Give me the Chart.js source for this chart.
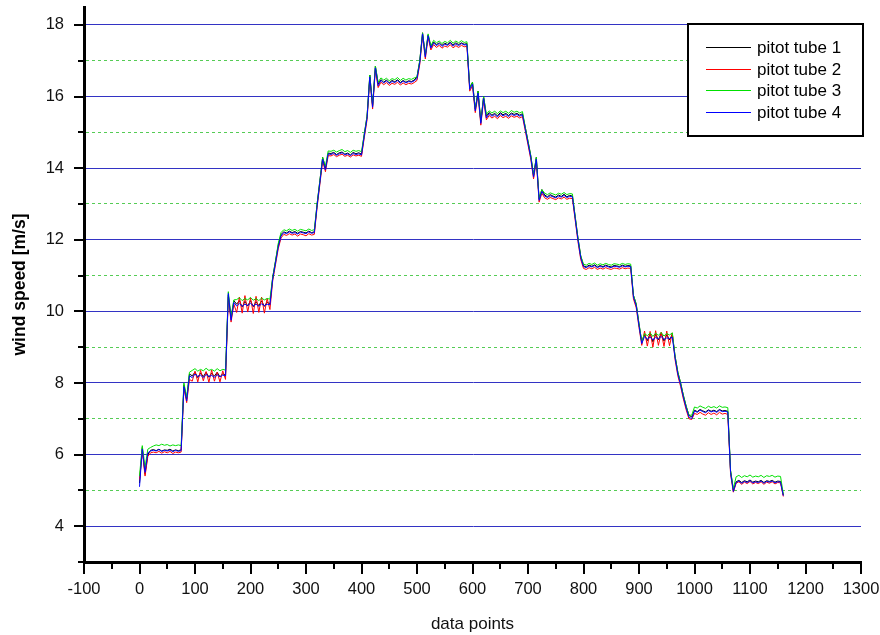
<!DOCTYPE html>
<html>
<head>
<meta charset="utf-8">
<title>pitot tubes</title>
<script src="https://cdn.jsdelivr.net/npm/chart.js@4/dist/chart.umd.min.js"></script>
<style>
  body { margin: 0; background: #fff; }
  #wrap { width: 880px; height: 635px; position: relative; }
</style>
</head>
<body>
<div id="wrap"><canvas id="windChart"></canvas></div>
<script>
// every 5th data point of the recording, 0 .. 1160
const samples = Array.from({ length: 233 }, (_, i) => i * 5);

// wind speed [m/s], one line per step / plateau
const tube1 = [
    5.2, 6.2, 5.45, 6.0, 6.12, 6.14, 6.11, 6.15, 6.1, 6.13, 6.12, 6.15, 6.1, 6.13, 6.11, 6.13,
    7.95, 7.55, 8.25,
    8.2, 8.3, 8.15, 8.28, 8.18, 8.3, 8.16, 8.27, 8.19, 8.3, 8.17, 8.26, 8.22,
    10.45, 9.8, 10.3,
    10.2, 10.3, 10.12, 10.28, 10.15, 10.3, 10.13, 10.27, 10.16, 10.29, 10.14, 10.26, 10.2,
    10.95, 11.4, 11.85, 12.15,
    12.22, 12.19, 12.24, 12.2, 12.23, 12.18, 12.23, 12.21, 12.19, 12.24, 12.2, 12.22,
    13.0, 13.65, 14.3, 14.0, 14.42,
    14.41, 14.44, 14.38, 14.43, 14.45, 14.39, 14.42, 14.37, 14.44, 14.4, 14.43, 14.39,
    14.95, 15.45, 16.6, 15.75, 16.85, 16.35,
    16.47, 16.4, 16.46, 16.38, 16.45, 16.41, 16.47, 16.39, 16.45, 16.4, 16.44, 16.42, 16.46,
    16.55, 17.0, 17.78, 17.15, 17.72, 17.38,
    17.52, 17.45, 17.5, 17.43, 17.49, 17.45, 17.52, 17.44, 17.5, 17.45, 17.5, 17.46, 17.48,
    16.25, 16.4, 15.65, 16.15, 15.3, 16.0, 15.45,
    15.55, 15.48, 15.53, 15.46, 15.55, 15.49, 15.53, 15.47, 15.54, 15.5, 15.53, 15.48, 15.52,
    15.15, 14.75, 14.35, 13.8, 14.3, 13.15, 13.4,
    13.25, 13.2, 13.26, 13.22, 13.19, 13.25, 13.21, 13.27, 13.2, 13.24, 13.22,
    12.65, 12.05, 11.55,
    11.27, 11.24, 11.29, 11.26, 11.3, 11.24, 11.28, 11.25, 11.29, 11.26, 11.24, 11.28, 11.27, 11.25, 11.29, 11.26, 11.28, 11.27,
    10.45, 10.2, 9.65, 9.15,
    9.35, 9.18, 9.38, 9.15, 9.36, 9.2, 9.4, 9.17, 9.35, 9.2, 9.36,
    8.75, 8.3, 8.0, 7.65, 7.35, 7.1,
    7.05, 7.24, 7.2, 7.26, 7.22, 7.19, 7.25, 7.21, 7.24, 7.2, 7.26, 7.22, 7.23, 7.21,
    5.55, 5.0,
    5.24, 5.28, 5.22, 5.27, 5.24, 5.29, 5.23, 5.26, 5.24, 5.28, 5.22, 5.27, 5.25, 5.28, 5.23, 5.26, 5.25,
    4.87
];

const tube2 = [
    5.3, 6.1, 5.4, 5.95, 6.05, 6.07, 6.05, 6.09, 6.04, 6.08, 6.05, 6.09, 6.03, 6.07, 6.05, 6.07,
    7.85, 7.45, 8.1,
    8.05, 8.33, 8.03, 8.35, 8.06, 8.32, 8.02, 8.36, 8.05, 8.3, 8.03, 8.34, 8.1,
    10.4, 9.7, 10.2,
    9.97, 10.4, 9.95, 10.44, 9.98, 10.38, 9.94, 10.42, 9.97, 10.4, 9.95, 10.36, 10.05,
    10.85, 11.3, 11.75, 12.05,
    12.15, 12.12, 12.17, 12.13, 12.16, 12.1, 12.16, 12.14, 12.11, 12.17, 12.13, 12.15,
    12.9, 13.55, 14.2, 13.9, 14.35,
    14.34, 14.38, 14.32, 14.36, 14.39, 14.33, 14.36, 14.31, 14.37, 14.34, 14.36, 14.33,
    14.85, 15.35, 16.5, 15.65, 16.75, 16.25,
    16.4, 16.33, 16.39, 16.31, 16.37, 16.34, 16.4, 16.32, 16.38, 16.33, 16.37, 16.35, 16.39,
    16.45, 16.9, 17.7, 17.05, 17.65, 17.3,
    17.45, 17.37, 17.43, 17.35, 17.41, 17.38, 17.45, 17.36, 17.42, 17.37, 17.43, 17.39, 17.4,
    16.15, 16.3, 15.55, 16.05, 15.2, 15.9, 15.35,
    15.47, 15.4, 15.45, 15.38, 15.47, 15.41, 15.45, 15.39, 15.46, 15.42, 15.45, 15.4, 15.44,
    15.05, 14.65, 14.25, 13.7, 14.2, 13.05, 13.3,
    13.17, 13.13, 13.18, 13.15, 13.12, 13.17, 13.14, 13.19, 13.13, 13.16, 13.15,
    12.55, 11.95, 11.45,
    11.2, 11.17, 11.22, 11.19, 11.23, 11.17, 11.21, 11.18, 11.22, 11.19, 11.17, 11.21, 11.2, 11.18, 11.22, 11.19, 11.21, 11.2,
    10.35, 10.1, 9.55, 9.05,
    9.45, 9.03, 9.44, 9.0, 9.46, 9.05, 9.42, 9.02, 9.45, 9.04, 9.4,
    8.65, 8.2, 7.9, 7.55, 7.25, 7.0,
    6.98, 7.15, 7.12, 7.18, 7.13, 7.1, 7.17, 7.12, 7.16, 7.11, 7.18, 7.13, 7.15, 7.12,
    5.45, 4.95,
    5.2, 5.24, 5.17, 5.23, 5.19, 5.25, 5.18, 5.22, 5.19, 5.24, 5.17, 5.23, 5.2, 5.24, 5.18, 5.22, 5.21,
    4.83
];

const tube3 = [
    5.4, 6.25, 5.65, 6.15, 6.2, 6.24, 6.27, 6.25, 6.29, 6.26, 6.28, 6.24, 6.27, 6.25, 6.27, 6.25,
    8.0, 7.6, 8.3,
    8.35, 8.4, 8.33, 8.38, 8.34, 8.41, 8.35, 8.38, 8.33, 8.4, 8.34, 8.38, 8.36,
    10.55, 9.85, 10.32,
    10.33, 10.38, 10.3, 10.36, 10.32, 10.39, 10.31, 10.36, 10.3, 10.37, 10.32, 10.36, 10.34,
    10.95, 11.4, 11.9, 12.2,
    12.28, 12.25, 12.3, 12.26, 12.29, 12.24, 12.29, 12.27, 12.25, 12.3, 12.26, 12.28,
    13.0, 13.65, 14.3, 14.05, 14.48,
    14.47, 14.5, 14.45, 14.49, 14.52, 14.46, 14.49, 14.44, 14.5, 14.47, 14.49, 14.46,
    14.95, 15.45, 16.6, 15.75, 16.85, 16.4,
    16.52, 16.46, 16.51, 16.44, 16.5, 16.47, 16.53, 16.45, 16.51, 16.46, 16.5, 16.48, 16.52,
    16.55, 17.0, 17.78, 17.15, 17.75, 17.42,
    17.57, 17.5, 17.55, 17.48, 17.54, 17.5, 17.57, 17.49, 17.55, 17.5, 17.56, 17.51, 17.53,
    16.25, 16.4, 15.65, 16.15, 15.3, 16.0, 15.5,
    15.6, 15.54, 15.59, 15.52, 15.6, 15.55, 15.59, 15.53, 15.61, 15.56, 15.59, 15.54, 15.58,
    15.15, 14.75, 14.35, 13.8, 14.3, 13.15, 13.4,
    13.3, 13.26, 13.31, 13.28, 13.25, 13.3, 13.27, 13.32, 13.26, 13.29, 13.28,
    12.65, 12.05, 11.55,
    11.32, 11.29, 11.34, 11.31, 11.35, 11.29, 11.33, 11.3, 11.34, 11.31, 11.29, 11.33, 11.32, 11.3, 11.34, 11.31, 11.33, 11.32,
    10.45, 10.2, 9.65, 9.15,
    9.38, 9.32, 9.4, 9.3, 9.39, 9.33, 9.41, 9.31, 9.38, 9.34, 9.4,
    8.75, 8.3, 8.0, 7.65, 7.35, 7.1,
    7.1, 7.33, 7.3, 7.36, 7.32, 7.29, 7.35, 7.31, 7.34, 7.3, 7.36, 7.32, 7.33, 7.31,
    5.55, 5.05,
    5.38, 5.42, 5.36, 5.41, 5.38, 5.43, 5.37, 5.4, 5.38, 5.42, 5.36, 5.41, 5.39, 5.42, 5.37, 5.4, 5.39,
    4.9
];

const tube4 = [
    5.1, 6.15, 5.5, 6.05, 6.1, 6.12, 6.1, 6.14, 6.09, 6.12, 6.1, 6.13, 6.08, 6.12, 6.09, 6.11,
    7.9, 7.5, 8.2,
    8.15, 8.25, 8.18, 8.22, 8.15, 8.24, 8.18, 8.21, 8.16, 8.23, 8.17, 8.22, 8.2,
    10.5, 9.75, 10.25,
    10.15, 10.22, 10.14, 10.2, 10.16, 10.23, 10.15, 10.2, 10.14, 10.21, 10.16, 10.2, 10.18,
    10.9, 11.35, 11.8, 12.1,
    12.2, 12.17, 12.22, 12.18, 12.2, 12.16, 12.21, 12.19, 12.17, 12.22, 12.18, 12.2,
    12.95, 13.6, 14.25, 13.95, 14.4,
    14.38, 14.42, 14.36, 14.4, 14.43, 14.37, 14.4, 14.35, 14.41, 14.38, 14.4, 14.37,
    14.9, 15.4, 16.55, 15.7, 16.8, 16.3,
    16.45, 16.38, 16.44, 16.36, 16.42, 16.39, 16.45, 16.37, 16.43, 16.38, 16.42, 16.4, 16.44,
    16.5, 16.95, 17.75, 17.1, 17.7, 17.35,
    17.5, 17.42, 17.48, 17.4, 17.46, 17.43, 17.5, 17.41, 17.47, 17.42, 17.48, 17.44, 17.45,
    16.2, 16.35, 15.6, 16.1, 15.25, 15.95, 15.4,
    15.52, 15.45, 15.5, 15.43, 15.52, 15.46, 15.5, 15.44, 15.51, 15.47, 15.5, 15.45, 15.49,
    15.1, 14.7, 14.3, 13.75, 14.25, 13.1, 13.35,
    13.22, 13.18, 13.23, 13.2, 13.17, 13.22, 13.19, 13.24, 13.18, 13.21, 13.2,
    12.6, 12.0, 11.5,
    11.25, 11.22, 11.27, 11.24, 11.28, 11.22, 11.26, 11.23, 11.27, 11.24, 11.22, 11.26, 11.25, 11.23, 11.27, 11.24, 11.26, 11.25,
    10.4, 10.15, 9.6, 9.1,
    9.3, 9.22, 9.28, 9.2, 9.27, 9.23, 9.3, 9.21, 9.26, 9.24, 9.28,
    8.7, 8.25, 7.95, 7.6, 7.3, 7.05,
    7.0, 7.22, 7.18, 7.24, 7.2, 7.17, 7.23, 7.19, 7.22, 7.18, 7.24, 7.2, 7.21, 7.19,
    5.5, 4.97,
    5.22, 5.26, 5.2, 5.25, 5.22, 5.27, 5.21, 5.24, 5.22, 5.26, 5.2, 5.25, 5.23, 5.26, 5.21, 5.24, 5.23,
    4.85
];

const seriesNames = ['pitot tube 1', 'pitot tube 2', 'pitot tube 3', 'pitot tube 4'];
const seriesColors = ['#000000', '#ff0000', '#00e000', '#0000ff'];
const xTicks = { min: -100, max: 1300, step: 50 };
const yTicks = { min: 3, max: 18.5, step: 1 };

const FONT = "'Liberation Sans', Arial, sans-serif";

function toPoints(values) {
    return values.map((v, i) => ({ x: samples[i], y: v }));
}

// black tick marks, long on labelled steps, short in between
const axisTicks = {
    id: 'axisTicks',
    afterDraw(chart) {
        const { ctx, chartArea, scales } = chart;
        ctx.save();
        ctx.strokeStyle = '#000';
        ctx.lineWidth = 2;
        ctx.beginPath();
        scales.x.ticks.forEach(t => {
            const len = t.value % 100 === 0 ? 12 : 7;
            const px = Math.round(scales.x.getPixelForValue(t.value));
            ctx.moveTo(px, chartArea.bottom);
            ctx.lineTo(px, chartArea.bottom + len);
        });
        scales.y.ticks.forEach(t => {
            const len = t.value % 2 === 0 ? 10 : 6;
            const py = Math.round(scales.y.getPixelForValue(t.value));
            ctx.moveTo(chartArea.left - len, py);
            ctx.lineTo(chartArea.left, py);
        });
        ctx.stroke();
        ctx.restore();
    }
};

// boxed legend inside the plot, top right
const boxedLegend = {
    id: 'boxedLegend',
    afterDraw(chart) {
        const ctx = chart.ctx;
        const left = 688, top = 24, w = 175, h = 112;
        ctx.save();
        ctx.fillStyle = '#fff';
        ctx.fillRect(left, top, w, h);
        ctx.lineWidth = 2;
        ctx.strokeStyle = '#000';
        ctx.strokeRect(left, top, w, h);
        ctx.font = '17px ' + FONT;
        ctx.textBaseline = 'middle';
        ctx.textAlign = 'left';
        chart.data.datasets.forEach((ds, i) => {
            const y = Math.round(top + 23 + i * 21.5) + 0.5;
            ctx.strokeStyle = ds.borderColor;
            ctx.lineWidth = 1;
            ctx.beginPath();
            ctx.moveTo(706, y);
            ctx.lineTo(751, y);
            ctx.stroke();
            ctx.fillStyle = '#000';
            ctx.fillText(ds.label, 757, y + 1);
        });
        ctx.restore();
    }
};

const allTubes = [tube1, tube2, tube3, tube4];

const ctx = document.getElementById('windChart').getContext('2d');
const windChart = new Chart(ctx, {
    type: 'line',
    data: {
        datasets: allTubes.map((vals, i) => ({
            label: seriesNames[i],
            data: toPoints(vals),
            borderColor: seriesColors[i],
            borderWidth: 1,
            pointRadius: 0,
            tension: 0,
            fill: false,
            order: 4 - i   // last tube drawn on top
        }))
    },
    options: {
        responsive: true,
        maintainAspectRatio: false,
        animation: false,
        events: [],
        layout: { padding: { left: 0, right: 19, top: 7, bottom: 0 } },
        plugins: {
            legend: { display: false },
            tooltip: { enabled: false }
        },
        scales: {
            x: {
                type: 'linear',
                min: xTicks.min,
                max: xTicks.max,
                afterFit: s => { s.height = 73; },
                ticks: {
                    stepSize: xTicks.step,
                    autoSkip: false,
                    maxRotation: 0,
                    includeBounds: false,
                    padding: 0,
                    color: '#111',
                    font: { family: FONT, size: 16.5 },
                    callback: v => (v % 100 === 0 ? v : '')
                },
                grid: {
                    drawOnChartArea: false,
                    tickLength: 18,
                    tickColor: 'rgba(0,0,0,0)'
                },
                border: { display: true, color: '#000', width: 3 },
                title: {
                    display: true,
                    text: 'data points',
                    color: '#111',
                    font: { family: FONT, size: 17 },
                    padding: { top: 0, bottom: 0 }
                }
            },
            y: {
                type: 'linear',
                min: yTicks.min,
                max: yTicks.max,
                afterFit: s => { s.width = 84; },
                ticks: {
                    stepSize: yTicks.step,
                    autoSkip: false,
                    includeBounds: false,
                    padding: 0,
                    color: '#111',
                    font: { family: FONT, size: 16.5, lineHeight: 0.85 },
                    callback: v => (v % 2 === 0 ? v : '')
                },
                grid: {
                    color: c => {
                        if (!c.tick || c.tick.value === 3) return 'rgba(0,0,0,0)';
                        return c.tick.value % 2 === 0 ? '#3333c4' : '#55cc55';
                    },
                    lineWidth: 1,
                    tickLength: 20,
                    tickColor: 'rgba(0,0,0,0)'
                },
                border: {
                    display: true,
                    color: '#000',
                    width: 3,
                    dash: c => (c.tick && c.tick.value % 2 !== 0 ? [3, 3] : [])
                },
                title: {
                    display: true,
                    text: 'wind speed [m/s]',
                    color: '#000',
                    font: { family: FONT, size: 17.5, weight: 'bold' },
                    padding: { top: 10, bottom: 0 }
                }
            }
        }
    },
    plugins: [axisTicks, boxedLegend]
});
</script>
</body>
</html>
